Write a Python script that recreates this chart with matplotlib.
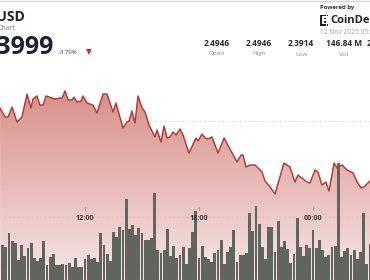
import numpy as np
import matplotlib
matplotlib.use("Agg")
import matplotlib.pyplot as plt
from matplotlib.patches import Rectangle
from matplotlib.lines import Line2D

W, H = 370, 280
FONT = ["Open Sans", "DejaVu Sans"]

# Price samples: hour of day (values past 24 are the next day) and price in USD
price_hours = [7.53, 7.79, 7.95, 8.16, 8.42, 8.68, 8.95, 9.16, 9.26, 9.47,
               9.63, 9.79, 9.95, 10.26, 10.42, 10.68, 10.79, 10.95, 11.11, 11.32,
               11.42, 11.58, 11.79, 11.89, 12.11, 12.42, 12.63, 12.95, 13.16, 13.47,
               13.63, 14.00, 14.21, 14.32, 14.47, 14.63, 14.79, 15.00, 15.16, 15.37,
               15.68, 15.79, 16.00, 16.16, 16.32, 16.47, 16.63, 16.79, 17.00, 17.16,
               17.47, 17.84, 17.95, 18.16, 18.32, 18.47, 18.68, 19.00, 19.32, 19.63,
               20.00, 20.21, 20.32, 20.47, 20.68, 20.95, 21.32, 21.47, 21.74, 22.00,
               22.47, 22.79, 23.05, 23.21, 23.68, 23.84, 24.11, 24.26, 24.47, 24.68,
               24.84, 25.11, 25.26, 25.53, 25.79, 26.11, 26.32, 26.53, 26.68, 27.00]
prices = [2.4724, 2.4638, 2.4638, 2.4733, 2.4590, 2.4638, 2.4857, 2.4724, 2.4809, 2.4838,
          2.4752, 2.4752, 2.4838, 2.4819, 2.4809, 2.4819, 2.4819, 2.4886, 2.4800, 2.4800,
          2.4828, 2.4781, 2.4790, 2.4838, 2.4771, 2.4752, 2.4676, 2.4857, 2.4857, 2.4686,
          2.4771, 2.4533, 2.4590, 2.4600, 2.4695, 2.4581, 2.4838, 2.4724, 2.4686, 2.4562,
          2.4448, 2.4514, 2.4400, 2.4552, 2.4438, 2.4448, 2.4495, 2.4467, 2.4524, 2.4467,
          2.4295, 2.4438, 2.4410, 2.4476, 2.4438, 2.4429, 2.4448, 2.4295, 2.4438, 2.4333,
          2.4210, 2.4276, 2.4276, 2.4162, 2.4181, 2.4181, 2.4114, 2.4029, 2.3972, 2.3905,
          2.4200, 2.4162, 2.4019, 2.4086, 2.4019, 2.4010, 2.4134, 2.4114, 2.3991, 2.4019,
          2.3934, 2.4200, 2.4153, 2.4181, 2.4134, 2.4105, 2.4019, 2.3962, 2.3972, 2.4029]

# 10-minute volume bars, millions of XRP
volume_start_hour = 7 + 40 / 60
volume_step_hours = 10 / 60
volumes_m = [1.19, 1.12, 1.60, 1.33, 1.26, 0.68, 1.19, 0.82, 1.09, 1.26,
             0.75, 0.65, 0.75, 1.33, 0.51, 0.78, 0.88, 0.51, 0.51, 0.54,
             0.51, 0.58, 0.44, 0.75, 0.44, 0.44, 0.71, 0.85, 0.71, 0.75,
             0.61, 1.60, 1.19, 0.88, 0.65, 1.63, 1.46, 1.80, 1.70, 2.75,
             1.73, 1.87, 1.53, 1.77, 1.60, 1.36, 1.36, 1.43, 2.96, 1.02,
             0.92, 1.02, 1.73, 0.82, 1.16, 0.75, 0.85, 1.12, 0.54,
             1.09, 1.63, 2.35, 0.75, 1.16, 0.78, 0.71, 0.61, 0.92, 1.02,
             1.36, 0.54, 0.95, 1.12, 1.70, 0.61, 0.85, 0.85, 0.92, 2.28,
             1.67, 2.52, 1.90, 1.12, 0.71, 1.80, 1.80, 0.95, 2.01, 1.12,
             1.33, 1.05, 0.58, 0.88, 2.11, 1.12, 0.82, 1.19, 1.09, 1.70,
             1.09, 1.36, 1.02, 0.78, 0.85, 1.12, 1.16, 3.98, 0.78, 0.99,
             1.09, 0.85, 1.02, 0.71, 0.95, 2.28, 0.54, 1.22, 0.92]

tick_hours = [12, 18, 24]
tick_labels = ["12:00", "18:00", "00:00"]
grid_prices = [2.40, 2.46]

pair = "XRP-USD"
last_price = "2.3999"
change_pct = "-3.79%"
stat_values = ["2.4946", "2.4946", "2.3914", "146.84 M"]
stat_names = ["Open", "High", "Low", "Vol"]
stamp = "12 Nov 2025 05:58 UTC"

fig = plt.figure(figsize=(W / 100, H / 100), dpi=100)
fig.patch.set_facecolor("white")

ax = fig.add_axes([0, 0, 1, 1])
x_lo, x_hi = 7.526, 27.0
y_lo, y_hi = 2.3086, 2.5752
ax.set_xlim(x_lo, x_hi)
ax.set_ylim(y_lo, y_hi)
ax.axis("off")

# Gradient area under the price line
fill = ax.fill_between(price_hours, prices, y_lo, color="none", lw=0)
top_c = np.array([214, 142, 136]) / 255
bot_c = np.array([247, 231, 231]) / 255
t = np.linspace(0, 1, 256)[:, None]
grad = (top_c[None, :] * (1 - t) + bot_c[None, :] * t)[:, None, :]
img = ax.imshow(grad, extent=(x_lo, x_hi, y_lo, 2.492), origin="upper",
                aspect="auto", zorder=1)
img.set_clip_path(fill.get_paths()[0], transform=ax.transData)

for gp in grid_prices:
    ax.axhline(gp, color="#c9c9c9", lw=0.8, ls=(0, (1, 3)), zorder=0.5)
ax.axhline(y_lo + (y_hi - y_lo) * (63 / 280), color="#d4c4c4", lw=0.8,
           ls=(0, (1, 3)), zorder=1.5)

ax.plot(price_hours, prices, color="#b03a35", lw=1.05, zorder=3,
        solid_joinstyle="round")

# Volume bars on a shared time axis
vax = fig.add_axes([0, 0, 1, 1], sharex=ax)
vax.patch.set_alpha(0)
vax.axis("off")
vol_hours = volume_start_hour + volume_step_hours * np.arange(len(volumes_m))
vax.bar(vol_hours, volumes_m, width=volume_step_hours * 0.86,
        color="#61655d", lw=0, zorder=4)
vax.set_ylim(0, 9.52)
vax.set_xlim(x_lo, x_hi)

# Time ticks and labels
for h, lab in zip(tick_hours, tick_labels):
    vax.annotate(lab, (h, 0), xycoords=("data", "figure fraction"),
                 xytext=(0, H - 219), textcoords="offset pixels",
                 ha="center", va="center", fontsize=5.2, fontweight="bold",
                 color="#3a3a3a", family=FONT, zorder=6)
    vax.plot([h, h], [(H - 210) / H * 9.52, (H - 207) / H * 9.52],
             color="#9a9a9a", lw=0.6, zorder=6)


def fx(x):
    return x / W


def fy(y):
    return 1 - y / H


# Header
fig.add_artist(Line2D([0, 1], [fy(0.5), fy(0.5)], color="#d6d6d6", lw=1.0))
fig.text(fx(25), fy(17), pair, ha="right", va="center", fontsize=10,
         fontweight="bold", color="#1e2230", family=FONT)
fig.text(fx(-2.5), fy(28), "Chart", ha="left", va="center", fontsize=5,
         color="#7a7a7a", family=FONT)
fig.text(fx(53), fy(47), last_price, ha="right", va="center", fontsize=18,
         fontweight="bold", color="#1e2230", family=FONT)
fig.text(fx(59), fy(53), change_pct, ha="left", va="center", fontsize=4.3,
         color="#333333", family=FONT)
fig.text(fx(89), fy(53), "\u25BC", ha="center", va="center", fontsize=5.5,
         color="#c0322b", family=FONT)

stat_x = [217, 259, 301, 344]
for sx, val, name in zip(stat_x, stat_values, stat_names):
    fig.text(fx(sx), fy(44), val, ha="center", va="center", fontsize=6,
             fontweight="bold", color="#2a2a2a", family=FONT)
    fig.text(fx(sx), fy(54), name, ha="center", va="center", fontsize=4.6,
             color="#8a8a8a", family=FONT)
fig.text(fx(367), fy(44), last_price, ha="left", va="center", fontsize=6,
         fontweight="bold", color="#2a2a2a", family=FONT)

fig.text(fx(320), fy(7), "Powered by", ha="left", va="center", fontsize=4.3,
         fontweight="bold", color="#333333", family=FONT)
# CoinDesk mark
for (rx, ry, rw, rh) in [(320, 14.5, 1.8, 11), (320, 14.5, 5.5, 1.8), (320, 23.7, 5.5, 1.8),
                         (324, 17.5, 1.5, 1.5), (324, 21, 1.5, 1.5),
                         (326.5, 14.5, 1.5, 1.8), (326.5, 23.7, 1.5, 1.8)]:
    fig.add_artist(Rectangle((fx(rx), fy(ry + rh)), rw / W, rh / H,
                             color="#1e2230", lw=0))
fig.text(fx(330.5), fy(20.5), "CoinDesk", ha="left", va="center", fontsize=8,
         fontweight="bold", color="#1e2230", family=FONT)
fig.text(fx(320), fy(33), stamp, ha="left", va="center", fontsize=4.8,
         color="#a0a0a0", family=FONT)

fig.savefig("out.png", dpi=100, facecolor="white")
